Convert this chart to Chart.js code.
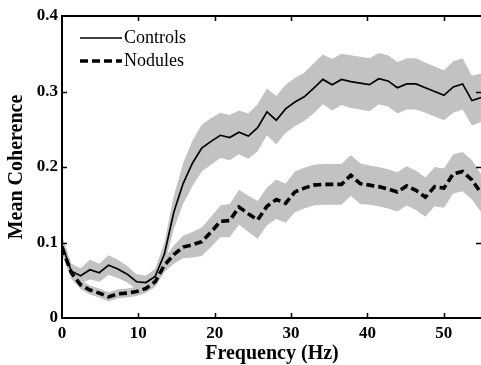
<!DOCTYPE html>
<html>
<head>
<meta charset="utf-8">
<script src="https://cdn.jsdelivr.net/npm/chart.js@4/dist/chart.umd.min.js"></script>
<style>
  html, body { margin: 0; padding: 0; background: #ffffff; overflow: hidden; }
  #wrap { width: 481px; height: 365px; overflow: hidden; }
  canvas { display: block; }
</style>
</head>
<body>
<div id="wrap"><canvas id="c" width="482" height="365"></canvas></div>
<script>
// ---- data ----
const freqHz = [0, 1.22, 2.44, 3.66, 4.88, 6.10, 7.32, 8.54, 9.76, 10.98,
  12.2, 13.42, 14.64, 15.86, 17.08, 18.3, 19.52, 20.74, 21.96, 23.18,
  24.4, 25.62, 26.84, 28.06, 29.28, 30.5, 31.72, 32.94, 34.16, 35.38,
  36.6, 37.82, 39.04, 40.26, 41.48, 42.7, 43.92, 45.14, 46.36, 47.58,
  48.8, 50.02, 51.24, 52.46, 53.68, 54.9];

const controlsMean = [0.097, 0.062, 0.056, 0.064, 0.060, 0.070, 0.065, 0.058, 0.048, 0.047,
  0.055, 0.085, 0.140, 0.178, 0.205, 0.225, 0.234, 0.242, 0.239, 0.246,
  0.241, 0.252, 0.273, 0.262, 0.277, 0.286, 0.293, 0.304, 0.316, 0.309,
  0.316, 0.313, 0.311, 0.309, 0.317, 0.314, 0.305, 0.310, 0.310, 0.305,
  0.300, 0.295, 0.306, 0.310, 0.288, 0.292];

const controlsSem = [0.013, 0.010, 0.010, 0.013, 0.012, 0.013, 0.012, 0.011, 0.010, 0.009,
  0.010, 0.015, 0.022, 0.027, 0.030, 0.031, 0.031, 0.030, 0.030, 0.029,
  0.030, 0.031, 0.031, 0.032, 0.032, 0.032, 0.032, 0.033, 0.033, 0.034,
  0.034, 0.035, 0.035, 0.035, 0.034, 0.034, 0.034, 0.034, 0.034, 0.033,
  0.033, 0.033, 0.034, 0.034, 0.033, 0.032];

const nodulesMean = [0.094, 0.060, 0.044, 0.037, 0.033, 0.028, 0.032, 0.033, 0.035, 0.039,
  0.048, 0.070, 0.084, 0.094, 0.097, 0.101, 0.114, 0.128, 0.129, 0.147,
  0.138, 0.130, 0.148, 0.157, 0.152, 0.167, 0.172, 0.176, 0.177, 0.177,
  0.177, 0.189, 0.178, 0.176, 0.174, 0.171, 0.167, 0.175, 0.169, 0.160,
  0.174, 0.172, 0.191, 0.194, 0.183, 0.165];

const nodulesSem = [0.010, 0.008, 0.006, 0.006, 0.006, 0.006, 0.006, 0.006, 0.006, 0.006,
  0.007, 0.009, 0.012, 0.015, 0.017, 0.019, 0.020, 0.021, 0.022, 0.023,
  0.024, 0.025, 0.025, 0.026, 0.026, 0.027, 0.027, 0.027, 0.027, 0.027,
  0.027, 0.027, 0.027, 0.026, 0.026, 0.026, 0.026, 0.026, 0.026, 0.026,
  0.026, 0.026, 0.026, 0.026, 0.026, 0.025];

const seriesNames = ['Controls', 'Nodules'];
const xTickValues = [0, 10, 20, 30, 40, 50];
const yTickValues = [0, 0.1, 0.2, 0.3, 0.4];
const xRange = [0, 55];
const yRange = [0, 0.4];
const xTitle = 'Frequency (Hz)';
const yTitle = 'Mean Coherence';

// ---- build library tables ----
const pts = (ys) => freqHz.map((f, i) => ({ x: f, y: ys[i] }));
const upper = (m, s) => m.map((v, i) => v + s[i]);
const lower = (m, s) => m.map((v, i) => v - s[i]);

const BAND = '#c2c2c2';
const SERIF = '"Liberation Serif", "Times New Roman", serif';

const frameAndLegend = {
  id: 'frameAndLegend',
  afterDatasetsDraw(chart) {
    const { ctx, chartArea: a, scales } = chart;
    const xs = scales.x, ys = scales.y;
    ctx.save();
    ctx.strokeStyle = '#000';
    ctx.lineWidth = 2;
    ctx.beginPath();
    ctx.moveTo(a.left, a.top); ctx.lineTo(a.right, a.top);
    ctx.lineTo(a.right, a.bottom); ctx.lineTo(a.left, a.bottom);
    ctx.closePath();
    ctx.stroke();
    // inward tick marks
    const tl = 5;
    ctx.lineWidth = 1.5;
    ctx.beginPath();
    xTickValues.forEach(v => {
      if (v === xRange[0]) return;
      const px = Math.round(xs.getPixelForValue(v)) + 0.5;
      ctx.moveTo(px, a.bottom); ctx.lineTo(px, a.bottom - tl);
      ctx.moveTo(px, a.top); ctx.lineTo(px, a.top + tl);
    });
    yTickValues.forEach(v => {
      if (v === yRange[0] || v === yRange[1]) return;
      const py = Math.round(ys.getPixelForValue(v)) + 0.5;
      ctx.moveTo(a.left, py); ctx.lineTo(a.left + tl, py);
      ctx.moveTo(a.right, py); ctx.lineTo(a.right - tl - 1, py);
    });
    ctx.stroke();
    // legend
    const ds = chart.data.datasets;
    const lx0 = 80, lx1 = 120;
    const rows = [{ y: 38, d: ds[0] }, { y: 61, d: ds[1] }];
    ctx.font = '18px ' + SERIF;
    ctx.fillStyle = '#000';
    ctx.textBaseline = 'middle';
    ctx.textAlign = 'left';
    rows.forEach(r => {
      ctx.beginPath();
      ctx.lineWidth = r.d.borderWidth;
      ctx.setLineDash(r.d.borderDash || []);
      ctx.moveTo(lx0, r.y); ctx.lineTo(lx1 + 2, r.y);
      ctx.stroke();
      ctx.setLineDash([]);
      ctx.fillText(r.d.label, 124, r.y);
    });
    ctx.restore();
  }
};

new Chart(document.getElementById('c'), {
  type: 'line',
  data: {
    datasets: [
      { label: seriesNames[0], data: pts(controlsMean), borderColor: '#000', borderWidth: 1.7,
        pointRadius: 0, tension: 0, fill: false, order: 0 },
      { label: seriesNames[1], data: pts(nodulesMean), borderColor: '#000', borderWidth: 3.6,
        borderDash: [8, 4], borderCapStyle: 'butt', pointRadius: 0, tension: 0, fill: false, order: 1 },
      { label: 'c_up', data: pts(upper(controlsMean, controlsSem)), borderWidth: 0, borderColor: BAND,
        backgroundColor: BAND, pointRadius: 0, tension: 0, fill: '+1', order: 2 },
      { label: 'c_lo', data: pts(lower(controlsMean, controlsSem)), borderWidth: 0, borderColor: BAND,
        pointRadius: 0, tension: 0, fill: false, order: 3 },
      { label: 'n_up', data: pts(upper(nodulesMean, nodulesSem)), borderWidth: 0, borderColor: BAND,
        backgroundColor: BAND, pointRadius: 0, tension: 0, fill: '+1', order: 4 },
      { label: 'n_lo', data: pts(lower(nodulesMean, nodulesSem)), borderWidth: 0, borderColor: BAND,
        pointRadius: 0, tension: 0, fill: false, order: 5 }
    ]
  },
  options: {
    responsive: false,
    animation: false,
    events: [],
    layout: { padding: { top: 16, right: 0, left: 0, bottom: 0 } },
    plugins: { legend: { display: false }, tooltip: { enabled: false } },
    scales: {
      x: {
        type: 'linear', min: xRange[0], max: xRange[1],
        grid: { display: false, drawTicks: false },
        border: { display: false },
        afterBuildTicks: s => { s.ticks = xTickValues.map(v => ({ value: v })); },
        afterFit: s => { s.height = 47; },
        ticks: { padding: 5, color: '#000', maxRotation: 0,
          font: { family: SERIF, size: 17, weight: 'bold' },
          callback: v => String(v) },
        title: { display: true, text: xTitle, color: '#000',
          font: { family: SERIF, size: 20, weight: 'bold', lineHeight: 1.1 },
          padding: { top: 0, bottom: 0 } }
      },
      y: {
        type: 'linear', min: yRange[0], max: yRange[1],
        grid: { display: false, drawTicks: false },
        border: { display: false },
        afterBuildTicks: s => { s.ticks = yTickValues.map(v => ({ value: v })); },
        afterFit: s => { s.width = 62; },
        ticks: { padding: 4, color: '#000',
          font: { family: SERIF, size: 17, weight: 'bold' },
          callback: v => (v === 0 ? '0' : Number(v).toFixed(1)) },
        title: { display: true, text: yTitle, color: '#000',
          font: { family: SERIF, size: 20, weight: 'bold', lineHeight: 1.1 },
          padding: { top: 6, bottom: 0 } }
      }
    }
  },
  plugins: [frameAndLegend]
});
</script>
</body>
</html>
